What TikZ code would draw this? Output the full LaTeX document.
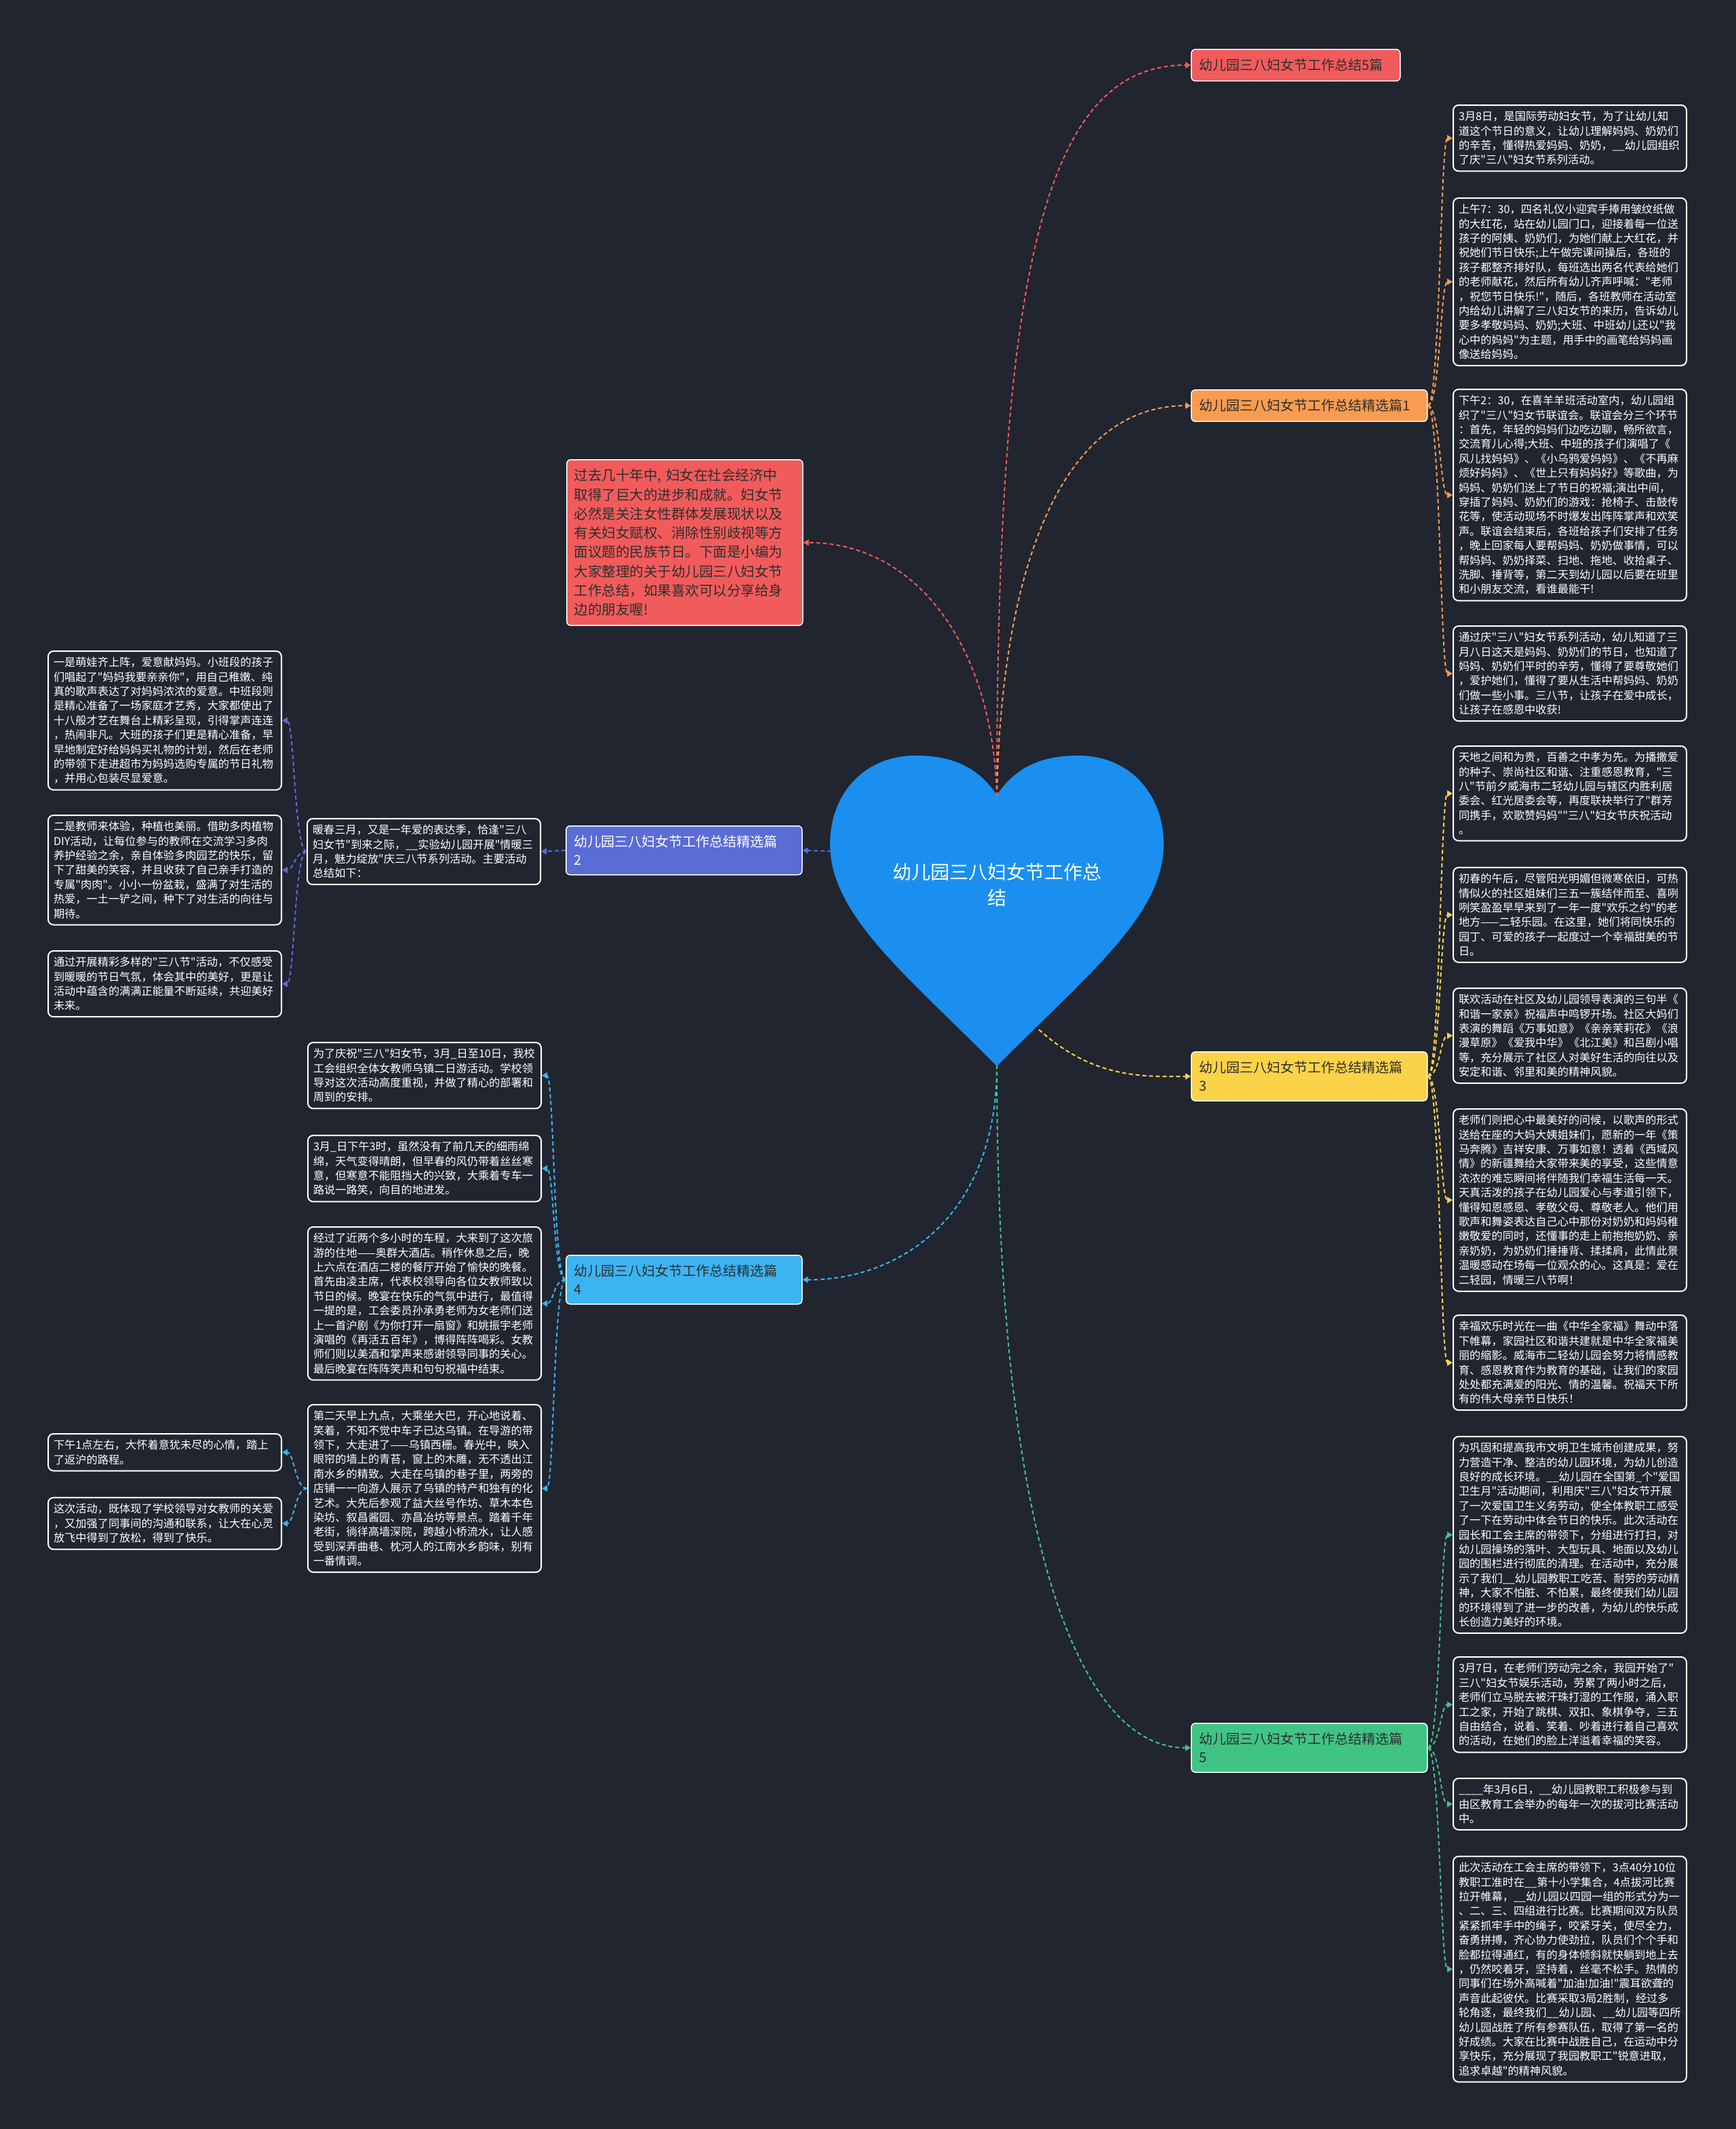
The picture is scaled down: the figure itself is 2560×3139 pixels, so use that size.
\documentclass[tikz,border=0pt]{standalone}
\usepackage{fontspec}
\newfontfamily\cjk{Noto Sans CJK SC}
\usetikzlibrary{arrows.meta}
\definecolor{bg}{HTML}{21252F}
\definecolor{heartblue}{HTML}{1A8FEF}
\definecolor{cred}{HTML}{F15B5B}
\definecolor{corange}{HTML}{F89C50}
\definecolor{cpurple}{HTML}{5A6CD6}
\definecolor{cyellow}{HTML}{FBD348}
\definecolor{clblue}{HTML}{3BB4F2}
\definecolor{cgreen}{HTML}{40C486}
\definecolor{dark}{HTML}{2E2E2E}
\tikzset{
  leaf/.style={draw=white, line width=1pt, rounded corners=4pt, fill=bg, text=white,
    font=\cjk\fontsize{8.1pt}{10.7pt}\selectfont, align=left, text width=164pt,
    inner xsep=4pt, inner ysep=4.5pt, anchor=north west},
  branch/.style={draw=white, line width=0.75pt, rounded corners=3pt, text=dark,
    font=\cjk\fontsize{10pt}{13.5pt}\selectfont, align=left, text width=162pt,
    inner xsep=6pt, inner ysep=7pt, anchor=north west},
  conn/.style={line width=1pt, dash pattern=on 3pt off 2pt,
    -{Triangle[length=4pt,width=4.5pt]}},
}
\begin{document}
\begin{tikzpicture}[x=0.5pt,y=-0.5pt]
\useasboundingbox (0,0) rectangle (2560,3139);
\fill[bg] (0,0) rectangle (2560,3139);

% heart
\fill[heartblue] (1470,1172) .. controls (1440,1128) and (1400,1114) .. (1350,1114)
  .. controls (1275,1114) and (1224,1170) .. (1224,1245)
  .. controls (1224,1350) and (1340,1440) .. (1470,1572)
  .. controls (1600,1440) and (1716,1350) .. (1716,1245)
  .. controls (1716,1170) and (1665,1114) .. (1590,1114)
  .. controls (1540,1114) and (1500,1128) .. (1470,1172) -- cycle;
\node[text=white, font=\cjk\fontsize{14pt}{19pt}\selectfont, align=center] (center) at (1470,1305) {幼儿园三八妇女节工作总\\结};
\coordinate (htop) at (1470,1174);
\coordinate (hleft) at (1226,1255);
\coordinate (hright) at (1532,1518);
\coordinate (htip) at (1470,1570);

% branches
\node[branch, fill=cred, text width=142pt] (b0) at (1756,72) {幼儿园三八妇女节工作总结5篇};
\node[branch, fill=corange] (b1) at (1756,574) {幼儿园三八妇女节工作总结精选篇1};
\node[branch, fill=cred, font=\cjk\fontsize{10.25pt}{14.15pt}\selectfont, inner xsep=5.5pt, inner ysep=6.8pt, text width=163pt] (intro) at (835,677) {过去几十年中, 妇女在社会经济中\\取得了巨大的进步和成就。妇女节\\必然是关注女性群体发展现状以及\\有关妇女赋权、消除性别歧视等方\\面议题的民族节日。下面是小编为\\大家整理的关于幼儿园三八妇女节\\工作总结，如果喜欢可以分享给身\\边的朋友喔!};
\node[branch, fill=cpurple, text=white] (b2) at (834,1217) {幼儿园三八妇女节工作总结精选篇\\2};
\node[branch, fill=cyellow] (b3) at (1756,1550) {幼儿园三八妇女节工作总结精选篇\\3};
\node[branch, fill=clblue] (b4) at (834,1850) {幼儿园三八妇女节工作总结精选篇\\4};
\node[branch, fill=cgreen] (b5) at (1756,2540) {幼儿园三八妇女节工作总结精选篇\\5};

% leaves of 1
\node[leaf] (a1) at (2142,154) {3月8日，是国际劳动妇女节，为了让幼儿知\\道这个节日的意义，让幼儿理解妈妈、奶奶们\\的辛苦，懂得热爱妈妈、奶奶，\_\_幼儿园组织\\了庆"三八"妇女节系列活动。};
\node[leaf] (a2) at (2142,291) {上午7：30，四名礼仪小迎宾手捧用皱纹纸做\\的大红花，站在幼儿园门口，迎接着每一位送\\孩子的阿姨、奶奶们，为她们献上大红花，并\\祝她们节日快乐;上午做完课间操后，各班的\\孩子都整齐排好队，每班选出两名代表给她们\\的老师献花，然后所有幼儿齐声呼喊："老师\\，祝您节日快乐!"，随后，各班教师在活动室\\内给幼儿讲解了三八妇女节的来历，告诉幼儿\\要多孝敬妈妈、奶奶;大班、中班幼儿还以"我\\心中的妈妈"为主题，用手中的画笔给妈妈画\\像送给妈妈。};
\node[leaf] (a3) at (2142,573) {下午2：30，在喜羊羊班活动室内，幼儿园组\\织了"三八"妇女节联谊会。联谊会分三个环节\\：首先，年轻的妈妈们边吃边聊，畅所欲言，\\交流育儿心得;大班、中班的孩子们演唱了《\\风儿找妈妈》、《小乌鸦爱妈妈》、《不再麻\\烦好妈妈》、《世上只有妈妈好》等歌曲，为\\妈妈、奶奶们送上了节日的祝福;演出中间，\\穿插了妈妈、奶奶们的游戏：抢椅子、击鼓传\\花等，使活动现场不时爆发出阵阵掌声和欢笑\\声。联谊会结束后，各班给孩子们安排了任务\\，晚上回家每人要帮妈妈、奶奶做事情，可以\\帮妈妈、奶奶择菜、扫地、拖地、收拾桌子、\\洗脚、捶背等，第二天到幼儿园以后要在班里\\和小朋友交流，看谁最能干!};
\node[leaf] (a4) at (2142,922) {通过庆"三八"妇女节系列活动，幼儿知道了三\\月八日这天是妈妈、奶奶们的节日，也知道了\\妈妈、奶奶们平时的辛劳，懂得了要尊敬她们\\，爱护她们，懂得了要从生活中帮妈妈、奶奶\\们做一些小事。三八节，让孩子在爱中成长，\\让孩子在感恩中收获!};

% leaves of 3
\node[leaf] (c31) at (2142,1099) {天地之间和为贵，百善之中孝为先。为播撒爱\\的种子、崇尚社区和谐、注重感恩教育，"三\\八"节前夕威海市二轻幼儿园与辖区内胜利居\\委会、红光居委会等，再度联袂举行了"群芳\\同携手，欢歌赞妈妈""三八"妇女节庆祝活动\\。};
\node[leaf] (c32) at (2142,1278) {初春的午后，尽管阳光明媚但微寒依旧，可热\\情似火的社区姐妹们三五一簇结伴而至、喜咧\\咧笑盈盈早早来到了一年一度"欢乐之约"的老\\地方——二轻乐园。在这里，她们将同快乐的\\园丁、可爱的孩子一起度过一个幸福甜美的节\\日。};
\node[leaf] (c33) at (2142,1456) {联欢活动在社区及幼儿园领导表演的三句半《\\和谐一家亲》祝福声中鸣锣开场。社区大妈们\\表演的舞蹈《万事如意》《亲亲茉莉花》《浪\\漫草原》《爱我中华》《北江美》和吕剧小唱\\等，充分展示了社区人对美好生活的向往以及\\安定和谐、邻里和美的精神风貌。};
\node[leaf] (c34) at (2142,1634) {老师们则把心中最美好的问候，以歌声的形式\\送给在座的大妈大姨姐妹们，愿新的一年《策\\马奔腾》吉祥安康、万事如意！透着《西域风\\情》的新疆舞给大家带来美的享受，这些情意\\浓浓的难忘瞬间将伴随我们幸福生活每一天。\\天真活泼的孩子在幼儿园爱心与孝道引领下，\\懂得知恩感恩、孝敬父母、尊敬老人。他们用\\歌声和舞姿表达自己心中那份对奶奶和妈妈稚\\嫩敬爱的同时，还懂事的走上前抱抱奶奶、亲\\亲奶奶，为奶奶们捶捶背、揉揉肩，此情此景\\温暖感动在场每一位观众的心。这真是：爱在\\二轻园，情暖三八节啊！};
\node[leaf] (c35) at (2142,1938) {幸福欢乐时光在一曲《中华全家福》舞动中落\\下帷幕，家园社区和谐共建就是中华全家福美\\丽的缩影。威海市二轻幼儿园会努力将情感教\\育、感恩教育作为教育的基础，让我们的家园\\处处都充满爱的阳光、情的温馨。祝福天下所\\有的伟大母亲节日快乐！};

% leaves of 5
\node[leaf] (c51) at (2142,2117) {为巩固和提高我市文明卫生城市创建成果，努\\力营造干净、整洁的幼儿园环境，为幼儿创造\\良好的成长环境。\_\_幼儿园在全国第\_个"爱国\\卫生月"活动期间，利用庆"三八"妇女节开展\\了一次爱国卫生义务劳动，使全体教职工感受\\了一下在劳动中体会节日的快乐。此次活动在\\园长和工会主席的带领下，分组进行打扫，对\\幼儿园操场的落叶、大型玩具、地面以及幼儿\\园的围栏进行彻底的清理。在活动中，充分展\\示了我们\_\_幼儿园教职工吃苦、耐劳的劳动精\\神，大家不怕脏、不怕累，最终使我们幼儿园\\的环境得到了进一步的改善，为幼儿的快乐成\\长创造力美好的环境。};
\node[leaf] (c52) at (2142,2442) {3月7日，在老师们劳动完之余，我园开始了"\\三八"妇女节娱乐活动，劳累了两小时之后，\\老师们立马脱去被汗珠打湿的工作服，涌入职\\工之家，开始了跳棋、双扣、象棋争夺，三五\\自由结合，说着、笑着、吵着进行着自己喜欢\\的活动，在她们的脸上洋溢着幸福的笑容。};
\node[leaf] (c53) at (2142,2621) {\_\_\_\_年3月6日，\_\_幼儿园教职工积极参与到\\由区教育工会举办的每年一次的拔河比赛活动\\中。};
\node[leaf] (c54) at (2142,2736) {此次活动在工会主席的带领下，3点40分10位\\教职工准时在\_\_第十小学集合，4点拔河比赛\\拉开帷幕，\_\_幼儿园以四园一组的形式分为一\\、二、三、四组进行比赛。比赛期间双方队员\\紧紧抓牢手中的绳子，咬紧牙关，使尽全力，\\奋勇拼搏，齐心协力使劲拉，队员们个个手和\\脸都拉得通红，有的身体倾斜就快躺到地上去\\，仍然咬着牙，坚持着，丝毫不松手。热情的\\同事们在场外高喊着"加油!加油!"震耳欲聋的\\声音此起彼伏。比赛采取3局2胜制，经过多\\轮角逐，最终我们\_\_幼儿园、\_\_幼儿园等四所\\幼儿园战胜了所有参赛队伍，取得了第一名的\\好成绩。大家在比赛中战胜自己，在运动中分\\享快乐，充分展现了我园教职工"锐意进取，\\追求卓越"的精神风貌。};

% leaves of 2
\node[leaf] (d0) at (452,1206) {暖春三月，又是一年爱的表达季，恰逢"三八\\妇女节"到来之际，\_\_实验幼儿园开展"情暖三\\月，魅力绽放"庆三八节系列活动。主要活动\\总结如下：};
\node[leaf] (e1) at (70,959) {一是萌娃齐上阵，爱意献妈妈。小班段的孩子\\们唱起了"妈妈我要亲亲你"，用自己稚嫩、纯\\真的歌声表达了对妈妈浓浓的爱意。中班段则\\是精心准备了一场家庭才艺秀，大家都使出了\\十八般才艺在舞台上精彩呈现，引得掌声连连\\，热闹非凡。大班的孩子们更是精心准备，早\\早地制定好给妈妈买礼物的计划，然后在老师\\的带领下走进超市为妈妈选购专属的节日礼物\\，并用心包装尽显爱意。};
\node[leaf] (e2) at (70,1201) {二是教师来体验，种植也美丽。借助多肉植物\\DIY活动，让每位参与的教师在交流学习多肉\\养护经验之余，亲自体验多肉园艺的快乐，留\\下了甜美的笑容，并且收获了自己亲手打造的\\专属"肉肉"。小小一份盆栽，盛满了对生活的\\热爱，一土一铲之间，种下了对生活的向往与\\期待。};
\node[leaf] (e3) at (70,1401) {通过开展精彩多样的"三八节"活动，不仅感受\\到暖暖的节日气氛，体会其中的美好，更是让\\活动中蕴含的满满正能量不断延续，共迎美好\\未来。};

% leaves of 4
\node[leaf] (f1) at (453,1536) {为了庆祝"三八"妇女节，3月\_日至10日，我校\\工会组织全体女教师乌镇二日游活动。学校领\\导对这次活动高度重视，并做了精心的部署和\\周到的安排。};
\node[leaf] (f2) at (453,1673) {3月\_日下午3时，虽然没有了前几天的细雨绵\\绵，天气变得晴朗，但早春的风仍带着丝丝寒\\意，但寒意不能阻挡大的兴致，大乘着专车一\\路说一路笑，向目的地进发。};
\node[leaf] (f3) at (453,1808) {经过了近两个多小时的车程，大来到了这次旅\\游的住地——奥群大酒店。稍作休息之后，晚\\上六点在酒店二楼的餐厅开始了愉快的晚餐。\\首先由凌主席，代表校领导向各位女教师致以\\节日的候。晚宴在快乐的气氛中进行，最值得\\一提的是，工会委员孙承勇老师为女老师们送\\上一首沪剧《为你打开一扇窗》和姚振宇老师\\演唱的《再活五百年》，博得阵阵喝彩。女教\\师们则以美酒和掌声来感谢领导同事的关心。\\最后晚宴在阵阵笑声和句句祝福中结束。};
\node[leaf] (f4) at (453,2070) {第二天早上九点，大乘坐大巴，开心地说着、\\笑着，不知不觉中车子已达乌镇。在导游的带\\领下，大走进了——乌镇西栅。春光中，映入\\眼帘的墙上的青苔，窗上的木雕，无不透出江\\南水乡的精致。大走在乌镇的巷子里，两旁的\\店铺一一向游人展示了乌镇的特产和独有的化\\艺术。大先后参观了益大丝号作坊、草木本色\\染坊、叙昌酱园、亦昌冶坊等景点。踏着千年\\老街，徜徉高墙深院，跨越小桥流水，让人感\\受到深弄曲巷、枕河人的江南水乡韵味，别有\\一番情调。};
\node[leaf] (g1) at (70,2113) {下午1点左右，大怀着意犹未尽的心情，踏上\\了返沪的路程。};
\node[leaf] (g2) at (70,2207) {这次活动，既体现了学校领导对女教师的关爱\\，又加强了同事间的沟通和联系，让大在心灵\\放飞中得到了放松，得到了快乐。};

% connectors from heart
\draw[conn, cred] (htop) .. controls (1470,400) and (1540,95) .. (b0.west);
\draw[conn, corange] (htop) .. controls (1476,850) and (1560,598) .. (b1.west);
\draw[conn, cred] (htop) .. controls (1464,950) and (1350,800) .. (intro.east);
\draw[conn, cpurple] (hleft) -- (b2.east);
\draw[conn, cyellow] (hright) .. controls (1610,1588) and (1680,1588) .. (b3.west);
\draw[conn, clblue] (htip) .. controls (1470,1800) and (1320,1888) .. (b4.east);
\draw[conn, cgreen] (htip) .. controls (1470,2300) and (1600,2578) .. (b5.west);

% branch leaves
\foreach \t in {a1,a2,a3,a4}
  \draw[conn, corange] (b1.east) .. controls +(18,0) and +(-18,0) .. (\t.west);
\foreach \t in {c31,c32,c33,c34,c35}
  \draw[conn, cyellow] (b3.east) .. controls +(18,0) and +(-18,0) .. (\t.west);
\foreach \t in {c51,c52,c53,c54}
  \draw[conn, cgreen] (b5.east) .. controls +(18,0) and +(-18,0) .. (\t.west);
\draw[conn, cpurple] (b2.west) -- (d0.east);
\foreach \t in {e1,e2,e3}
  \draw[conn, cpurple] (d0.west) .. controls +(-18,0) and +(18,0) .. (\t.east);
\foreach \t in {f1,f2,f3,f4}
  \draw[conn, clblue] (b4.west) .. controls +(-18,0) and +(18,0) .. (\t.east);
\foreach \t in {g1,g2}
  \draw[conn, clblue] (f4.west) .. controls +(-18,0) and +(18,0) .. (\t.east);
\end{tikzpicture}
\end{document}
